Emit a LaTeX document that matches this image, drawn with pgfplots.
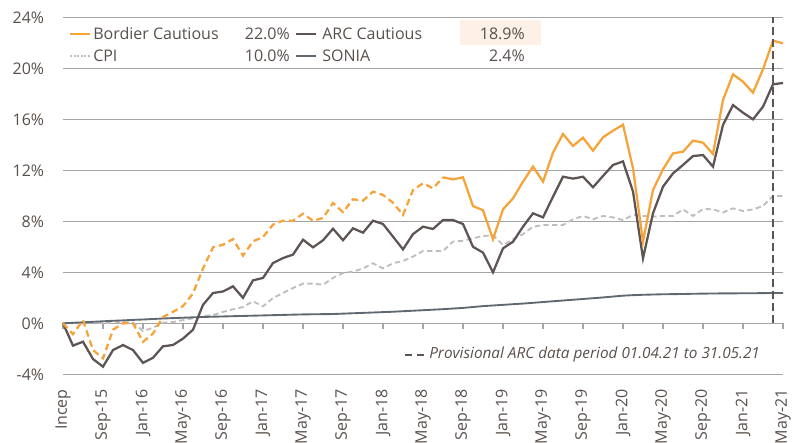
\documentclass[border=0pt]{standalone}
\usepackage{fontspec}
\setmainfont{Open Sans}
\usepackage{pgfplots}
\pgfplotsset{compat=1.18}
\usepackage{pgfplotstable}

\definecolor{bord}{RGB}{246,164,58}
\definecolor{arc}{RGB}{94,84,84}
\definecolor{cpi}{RGB}{190,190,190}
\definecolor{sonia}{RGB}{96,104,114}
\definecolor{txt}{RGB}{89,80,76}
\definecolor{gridc}{RGB}{165,165,165}
\definecolor{peach}{RGB}{253,240,230}

\pgfplotstableread{
i bord arc cpi sonia
0 0.00 0.00 0.00 0.00
1 -0.85 -1.75 0.05 0.04
2 0.25 -1.44 0.00 0.08
3 -2.10 -2.80 0.10 0.12
4 -2.75 -3.40 0.00 0.16
5 -0.50 -2.10 0.05 0.20
6 0.00 -1.70 0.10 0.23
7 0.00 -2.10 0.05 0.27
8 -1.45 -3.10 -0.60 0.30
9 -0.80 -2.70 -0.35 0.34
10 0.50 -1.80 0.05 0.38
11 0.90 -1.70 0.10 0.41
12 1.35 -1.20 0.25 0.44
13 2.35 -0.50 0.40 0.47
14 4.30 1.45 0.55 0.50
15 5.96 2.38 0.65 0.52
16 6.17 2.50 0.90 0.54
17 6.61 2.90 1.10 0.56
18 5.31 2.00 1.28 0.58
19 6.43 3.37 1.73 0.60
20 6.77 3.56 1.33 0.62
21 7.74 4.73 1.99 0.64
22 8.05 5.12 2.38 0.66
23 8.05 5.39 2.77 0.68
24 8.60 6.56 3.11 0.70
25 8.05 5.96 3.11 0.71
26 8.26 6.51 3.03 0.72
27 9.44 7.42 3.56 0.73
28 8.72 6.52 3.95 0.76
29 9.73 7.45 4.05 0.79
30 9.62 7.11 4.31 0.82
31 10.33 8.05 4.71 0.85
32 10.07 7.79 4.31 0.88
33 9.46 6.80 4.71 0.91
34 8.50 5.80 4.89 0.95
35 10.46 7.00 5.23 0.99
36 10.98 7.58 5.67 1.03
37 10.59 7.40 5.67 1.07
38 11.45 8.10 5.67 1.11
39 11.29 8.10 6.41 1.16
40 11.45 7.79 6.48 1.21
41 9.20 6.00 6.67 1.28
42 8.87 5.55 6.85 1.35
43 6.59 4.00 6.90 1.40
44 8.94 5.88 6.14 1.45
45 9.80 6.40 6.59 1.50
46 11.11 7.58 7.00 1.55
47 12.29 8.63 7.58 1.61
48 11.11 8.31 7.71 1.67
49 13.39 9.93 7.71 1.73
50 14.85 11.50 7.71 1.79
51 13.91 11.35 8.16 1.85
52 14.56 11.50 8.42 1.91
53 13.54 10.67 8.16 1.97
54 14.59 11.56 8.42 2.03
55 15.11 12.42 8.31 2.10
56 15.58 12.70 8.10 2.17
57 12.16 10.33 8.50 2.21
58 6.41 5.10 8.42 2.24
59 10.46 8.63 8.37 2.26
60 12.08 10.72 8.42 2.28
61 13.33 11.76 8.42 2.29
62 13.46 12.42 8.94 2.30
63 14.33 13.12 8.42 2.32
64 14.17 13.20 8.97 2.33
65 13.28 12.29 8.94 2.34
66 17.52 15.56 8.70 2.35
67 19.53 17.12 9.02 2.35
68 18.95 16.52 8.81 2.36
69 18.09 16.00 8.94 2.36
70 19.92 16.99 9.20 2.37
71 22.17 18.75 9.99 2.38
72 21.96 18.85 9.98 2.38
}\data

\begin{document}
\fontsize{12bp}{14bp}\selectfont
\begin{tikzpicture}
\path[use as bounding box] (0,0) rectangle (600bp,332.25bp);
\begin{axis}[
  at={(47.25bp,51.5bp)}, anchor=south west,
  scale only axis, width=540bp, height=267.75bp,
  xmin=0, xmax=72, ymin=-4, ymax=24,
  axis line style={draw=none},
  major tick length=0pt,
  ytick={-4,0,...,24},
  ymajorgrids, grid style={gridc, line width=0.9bp},
  xtick={0,4,...,72},
  xticklabels={Incep,Sep-15,Jan-16,May-16,Sep-16,Jan-17,May-17,Sep-17,Jan-18,May-18,Sep-18,Jan-19,May-19,Sep-19,Jan-20,May-20,Sep-20,Jan-21,May-21},
  xticklabel style={rotate=90, anchor=east, text=txt, xshift=-7bp},
  /pgf/number format/assume math mode=true,
  yticklabel={\pgfmathprintnumber{\tick}\%},
  yticklabel style={text=txt, xshift=-10bp},
  clip=false,
]
\draw[gridc, line width=0.9bp] (axis cs:0,0) -- (axis cs:72,0);
\pgfplotsinvokeforeach{0,4,...,72}{\draw[gridc, line width=0.9bp] (axis cs:#1,0) -- (axis cs:#1,-0.42);}
\addplot[cpi, line width=1.4bp, dash pattern=on 4bp off 2.5bp] table[x=i,y=cpi]{\data};
\addplot[sonia, line width=1.4bp] table[x=i,y=sonia]{\data};
\addplot[arc, line width=1.7bp] table[x=i,y=arc]{\data};
\addplot[bord, line width=1.7bp, dash pattern=on 5bp off 3bp, restrict x to domain=0:38] table[x=i,y=bord]{\data};
\addplot[bord, line width=1.7bp, restrict x to domain=38:72] table[x=i,y=bord]{\data};
\addplot[arc, line width=1bp, dash pattern=on 6bp off 3bp] coordinates {(71,0) (71,24)};
\end{axis}
\begin{scope}[x=0.75bp,y=-0.75bp,yshift=332.25bp]
  \fill[peach] (460,20) rectangle (541,45);
  \draw[bord, line width=1.7bp] (70,34) -- (90,34);
  \node[anchor=west, text=txt, inner sep=0] at (93,34) {Bordier Cautious};
  \node[anchor=east, text=txt, inner sep=0] at (290,34) {22.0\%};
  \draw[arc, line width=1.7bp] (296,34) -- (316,34);
  \node[anchor=west, text=txt, inner sep=0] at (322,34) {ARC Cautious};
  \node[anchor=east, text=txt, inner sep=0] at (525,34) {18.9\%};
  \draw[cpi, line width=1.4bp, dash pattern=on 1.5bp off 1.2bp] (70,56) -- (90,56);
  \node[anchor=west, text=txt, inner sep=0] at (93,56) {CPI};
  \node[anchor=east, text=txt, inner sep=0] at (290,56) {10.0\%};
  \draw[sonia, line width=1.7bp] (296,56) -- (316,56);
  \node[anchor=west, text=txt, inner sep=0] at (322,56) {SONIA};
  \node[anchor=east, text=txt, inner sep=0] at (525,56) {2.4\%};
  \draw[arc, line width=1.5bp, dash pattern=on 5bp off 4bp] (405,355) -- (425,355);
  \node[anchor=west, text=txt, inner sep=0, font=\fontsize{11.5bp}{13bp}\selectfont\itshape] at (429,355) {Provisional ARC data period 01.04.21 to 31.05.21};
\end{scope}
\end{tikzpicture}
\end{document}
